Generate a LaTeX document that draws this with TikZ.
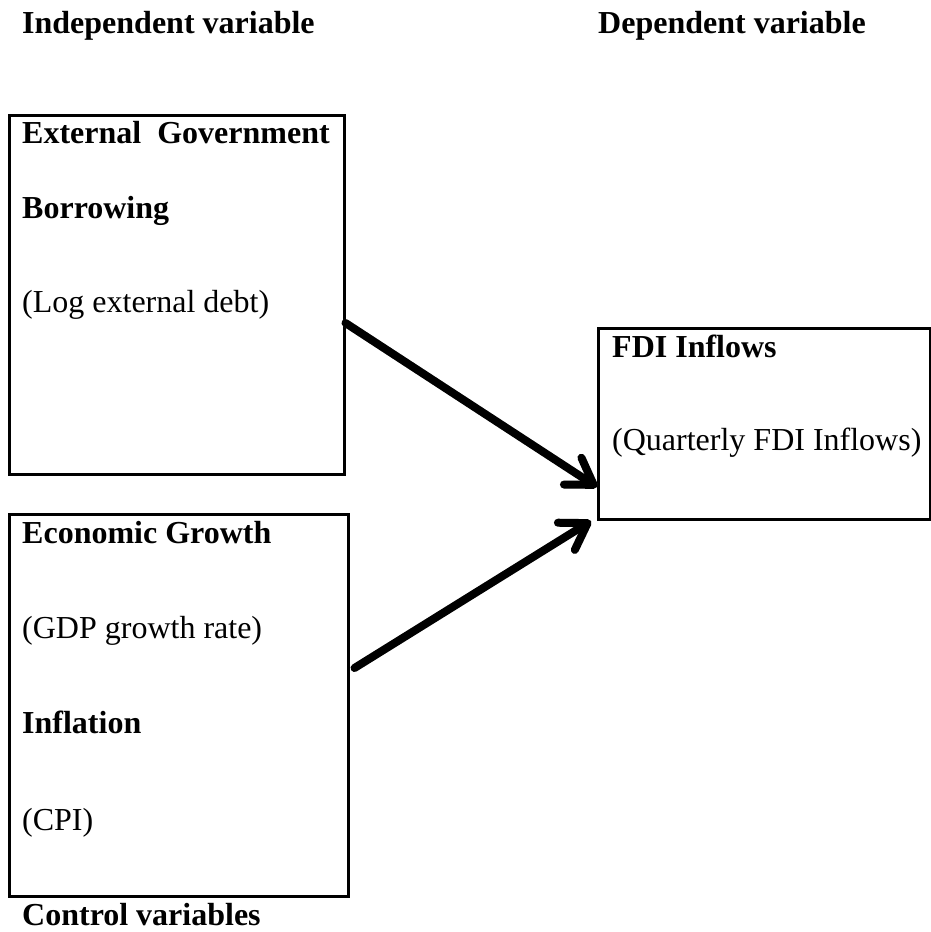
\documentclass[tikz,border=0pt]{standalone}
\usepackage{fontspec}
\setmainfont{Liberation Serif}
\usetikzlibrary{arrows.meta,calc}
\tikzset{
  box/.style={draw=black, line width=2.5pt, anchor=north west, inner sep=0pt},
  lbl/.style={anchor=base west, inner sep=0pt, font=\fontsize{32}{38}\selectfont},
  blbl/.style={lbl, font=\fontsize{32}{38}\selectfont\bfseries},
  bigarrow/.style={line width=8pt, line cap=round, black,
    -{Straight Barb[length=25pt,width=32pt,round]}},
  arrowshadow/.style={bigarrow, draw=black!35, opacity=0.35, shift={(1.5pt,-2.5pt)}}
}
\begin{document}
\begin{tikzpicture}[x=1pt,y=-1pt]
\useasboundingbox (0,0) rectangle (931,932);
% headings
\node[blbl] (indep) at (22,33) {Independent variable};
\node[blbl] (dep) at (598,33) {Dependent variable};
% boxes
\node[box, minimum width=335pt, minimum height=359pt] (ext) at (8,114) {};
\node[box, minimum width=339pt, minimum height=382pt] (ctrl) at (8,513) {};
\node[box, minimum width=332pt, minimum height=191pt] (fdi) at (597,327) {};
% texts in box 1
\node[blbl] (t1) at (22,143) {External\ \ Government};
\node[blbl] (t2) at (22,218) {Borrowing};
\node[lbl] (t3) at (22,312) {(Log external debt)};
% texts in box 2
\node[blbl] (t4) at (22,543) {Economic Growth};
\node[lbl] (t5) at (22,638) {(GDP growth rate)};
\node[blbl] (t6) at (22,733) {Inflation};
\node[lbl] (t7) at (22,830) {(CPI)};
\node[blbl] (ctl) at (22,925) {Control variables};
% FDI box texts
\node[blbl] (t8) at (612,357) {FDI Inflows};
\node[lbl] (t9) at (612,450) {(Quarterly FDI Inflows)};
% connectors
\coordinate (a1s) at (ext.east |- 0,323);
\coordinate (a1e) at (fdi.west |- 0,487);
\coordinate (a2s) at ($(ctrl.east |- 0,668)+(5,0)$);
\coordinate (a2e) at (591,521);
\draw[arrowshadow] (a1s) -- (a1e);
\draw[arrowshadow] (a2s) -- (a2e);
\draw[bigarrow] (a1s) -- (a1e);
\draw[bigarrow] (a2s) -- (a2e);
\end{tikzpicture}
\end{document}
